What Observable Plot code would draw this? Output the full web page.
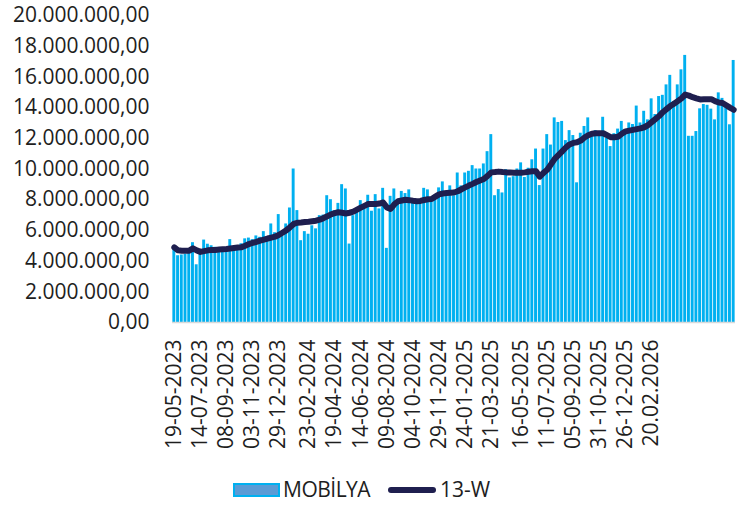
<!DOCTYPE html>
<html>
<head>
<meta charset="utf-8">
<script src="https://cdn.jsdelivr.net/npm/d3@7"></script>
<script src="https://cdn.jsdelivr.net/npm/@observablehq/plot@0.6"></script>
<style>
  html, body { margin: 0; padding: 0; background: #fff; }
  body { width: 748px; height: 506px; overflow: hidden; font-family: "Open Sans", sans-serif; color: #1e1e1e; }
  #legend { position: relative; width: 748px; height: 41px; font-size: 21px; }
  #legend .sw1 { position: absolute; left: 233px; top: 18px; width: 43px; height: 10px; background: #5b9bd5; border: 2px solid #00b0f0; }
  #legend .t1 { position: absolute; left: 283px; top: 9px; line-height: 30px; letter-spacing: -0.5px; }
  #legend .sw2 { position: absolute; left: 388px; top: 22px; width: 48px; height: 6px; background: #1f1f4f; border-radius: 3px; }
  #legend .t2 { position: absolute; left: 440px; top: 9px; line-height: 30px; }
</style>
</head>
<body>
<div id="chart"></div>
<div id="legend"><div class="sw1"></div><div class="t1">MOBİLYA</div><div class="sw2"></div><div class="t2">13-W</div></div>
<script>
// Weekly MOBİLYA values (millions)
const mobilyaMn = [
  4.95, 4.35, 4.40, 4.45, 4.50, 5.20, 3.76, 4.50, 5.37, 5.10,
  5.00, 4.90, 4.80, 4.80, 4.80, 5.40, 4.90, 4.95, 5.13, 5.45,
  5.50, 5.40, 5.64, 5.55, 5.92, 5.50, 6.42, 5.85, 7.03, 5.60,
  6.42, 7.46, 10.00, 7.29, 5.33, 5.92, 5.75, 6.30, 6.10, 6.96,
  7.00, 8.26, 8.00, 7.29, 7.76, 8.98, 8.70, 5.11, 6.96, 7.20,
  7.94, 7.40, 8.29, 7.25, 8.33, 7.40, 8.74, 4.83, 8.22, 8.70,
  8.00, 8.54, 8.40, 8.64, 8.05, 7.90, 7.90, 8.74, 8.64, 8.05,
  8.20, 8.77, 9.16, 8.30, 8.90, 8.25, 9.74, 8.90, 9.74, 9.85,
  10.22, 10.00, 10.00, 10.33, 11.13, 12.24, 8.26, 8.66, 8.44, 9.96,
  9.42, 9.50, 10.00, 10.40, 9.45, 10.05, 10.60, 11.30, 8.92, 11.30,
  12.24, 11.56, 13.33, 13.03, 13.10, 11.85, 12.50, 12.18, 9.10, 12.33,
  12.77, 13.33, 12.40, 12.50, 12.30, 13.37, 12.00, 11.46, 12.30, 12.60,
  13.10, 12.50, 13.00, 12.90, 14.10, 13.00, 13.76, 13.20, 14.57, 13.55,
  14.72, 14.80, 15.48, 16.10, 14.40, 15.48, 16.46, 17.40, 12.13, 12.13,
  12.44, 13.92, 14.20, 14.15, 13.90, 13.20, 14.96, 14.60, 14.15, 12.88,
  17.07
];
// 13-week line (millions)
const w13Mn = [
  4.89, 4.70, 4.68, 4.68, 4.68, 4.83, 4.70, 4.60, 4.65, 4.70,
  4.72, 4.73, 4.75, 4.77, 4.79, 4.82, 4.85, 4.88, 4.90, 5.00,
  5.11, 5.18, 5.25, 5.33, 5.40, 5.47, 5.53, 5.59, 5.70, 5.85,
  6.00, 6.20, 6.42, 6.50, 6.52, 6.55, 6.57, 6.60, 6.63, 6.70,
  6.80, 6.92, 7.05, 7.12, 7.18, 7.15, 7.10, 7.15, 7.22, 7.35,
  7.48, 7.60, 7.72, 7.72, 7.72, 7.75, 7.82, 7.50, 7.40, 7.70,
  7.90, 7.95, 8.00, 7.97, 7.93, 7.90, 7.92, 7.98, 8.03, 8.05,
  8.20, 8.35, 8.40, 8.43, 8.45, 8.47, 8.55, 8.68, 8.80, 8.92,
  9.03, 9.15, 9.25, 9.35, 9.55, 9.78, 9.80, 9.83, 9.80, 9.78,
  9.78, 9.76, 9.76, 9.76, 9.78, 9.82, 9.85, 9.85, 9.50, 9.75,
  9.95, 10.30, 10.66, 10.90, 11.15, 11.40, 11.60, 11.70, 11.74, 11.85,
  12.05, 12.20, 12.30, 12.33, 12.33, 12.33, 12.20, 12.07, 12.07, 12.10,
  12.30, 12.45, 12.50, 12.55, 12.60, 12.65, 12.72, 12.85, 13.05, 13.25,
  13.45, 13.70, 13.90, 14.10, 14.25, 14.42, 14.60, 14.85, 14.78, 14.68,
  14.60, 14.53, 14.55, 14.55, 14.55, 14.42, 14.33, 14.30, 14.15, 14.00,
  13.86
];
// x tick labels and the bar they sit under
const tickLabels = [
  "19-05-2023", "14-07-2023", "08-09-2023", "03-11-2023", "29-12-2023",
  "23-02-2024", "19-04-2024", "14-06-2024", "09-08-2024", "04-10-2024",
  "29-11-2024", "24-01-2025", "21-03-2025", "16-05-2025", "11-07-2025",
  "05-09-2025", "31-10-2025", "26-12-2025", "20.02.2026"
];
const tickBars = [0, 7, 14, 21, 28, 36, 43, 50, 57, 64, 71, 78, 85, 93, 100, 107, 114, 121, 128];
const yTicksMn = [0, 2, 4, 6, 8, 10, 12, 14, 16, 18, 20];

const table = mobilyaMn.map((v, i) => ({i, v, m: w13Mn[i]}));
const labelOf = new Map(tickBars.map((b, k) => [b, tickLabels[k]]));
const trFmt = d3.formatLocale({decimal: ",", thousands: ".", grouping: [3], currency: ["", ""]}).format(",.2f");

const chart = Plot.plot({
  width: 748,
  height: 465,
  marginLeft: 172,
  marginRight: 13,
  marginTop: 15,
  marginBottom: 143,
  style: {fontFamily: "Open Sans", fontSize: "21px", color: "#1e1e1e", background: "#fff"},
  x: {type: "band", domain: d3.range(mobilyaMn.length), paddingInner: 0.22, paddingOuter: 0.1},
  y: {domain: [0, 20]},
  marks: [
    Plot.barY(table, {x: "i", y: "v", fill: "#00b0f0"}),
    Plot.ruleY([0], {stroke: "#d9d9d9", strokeWidth: 1.5}),
    Plot.line(table, {x: "i", y: "m", stroke: "#1f1f4f", strokeWidth: 6, strokeLinejoin: "round", strokeLinecap: "round"}),
    Plot.axisY({ticks: yTicksMn, tickFormat: d => trFmt(d * 1e6), tickSize: 0, tickPadding: 23, fontSize: 21, label: null}),
    Plot.axisX({ticks: tickBars, tickFormat: d => labelOf.get(d), tickRotate: -90, tickSize: 0, tickPadding: 17, fontSize: 21, label: null})
  ]
});
document.getElementById("chart").appendChild(chart);
</script>
</body>
</html>
